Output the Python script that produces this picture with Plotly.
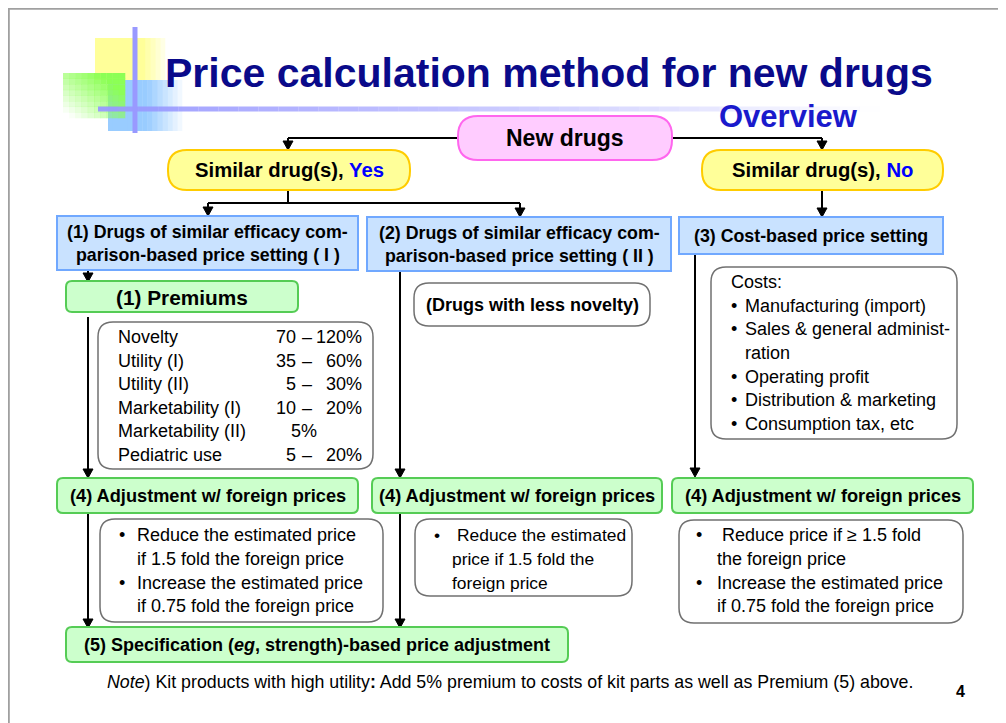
import plotly.graph_objects as go

# ---------------- content ----------------
title_text = "Price calculation method for new drugs"
subtitle_text = "Overview"
root_label = "New drugs"
branch_labels = ["Similar drug(s), ", "Similar drug(s), "]
branch_answers = ["Yes", "No"]
method_lines = [
    ["(1) Drugs of similar efficacy com-", "parison-based price setting ( I )"],
    ["(2) Drugs of similar efficacy com-", "parison-based price setting ( II )"],
    ["(3) Cost-based price setting"],
]
premium_title = "(1) Premiums"
premium_names = ["Novelty", "Utility (I)", "Utility (II)", "Marketability (I)",
                 "Marketability (II)", "Pediatric use"]
premium_low = [70, 35, 5, 10, 5, 5]
premium_high = [120, 60, 30, 20, None, 20]
less_novelty = "(Drugs with less novelty)"
cost_header = "Costs:"
cost_items = [["Manufacturing (import)"],
              ["Sales & general administ-", "ration"],
              ["Operating profit"],
              ["Distribution & marketing"],
              ["Consumption tax, etc"]]
adjust_label = "(4) Adjustment w/ foreign prices"
adjust_rules = [
    [["Reduce the estimated price", "if 1.5 fold the foreign price"],
     ["Increase the estimated price", "if 0.75 fold the foreign price"]],
    [["Reduce the estimated", "price if 1.5 fold the", "foreign price"]],
    [["Reduce price if \u2265 1.5 fold", "the foreign price"],
     ["Increase the estimated price", "if 0.75 fold the foreign price"]],
]
spec_label = "(5) Specification (<i>eg</i>, strength)-based price adjustment"
note_text = ("<i>Note</i>) Kit products with high utility<b>:</b> Add 5% premium to costs "
             "of kit parts as well as Premium (5) above.")
page_number = "4"

FONT = "Liberation Sans, Arial, Helvetica, sans-serif"
PAGE_OFFSET = 8  # browser body margin

shapes = []
annotations = []


def rect(x0, y0, x1, y1, fill, line=None, lw=0, opacity=1.0):
    shapes.append(dict(type="rect", x0=x0, y0=y0, x1=x1, y1=y1, xref="x", yref="y",
                       fillcolor=fill, opacity=opacity,
                       line=dict(color=line or fill, width=lw)))


def rrect(x0, y0, x1, y1, r, fill, line, lw=2):
    p = (f"M {x0+r},{y0} L {x1-r},{y0} Q {x1},{y0} {x1},{y0+r} L {x1},{y1-r} "
         f"Q {x1},{y1} {x1-r},{y1} L {x0+r},{y1} Q {x0},{y1} {x0},{y1-r} "
         f"L {x0},{y0+r} Q {x0},{y0} {x0+r},{y0} Z")
    shapes.append(dict(type="path", path=p, xref="x", yref="y", fillcolor=fill,
                       line=dict(color=line, width=lw)))


def line(x0, y0, x1, y1, color="black", w=2, opacity=1.0):
    shapes.append(dict(type="line", x0=x0, y0=y0, x1=x1, y1=y1, xref="x", yref="y",
                       opacity=opacity, line=dict(color=color, width=w)))


def arrow_down(x, y0, y1):
    line(x, y0, x, y1 - 7)
    p = f"M {x-5},{y1-9} L {x+5},{y1-9} L {x},{y1} Z"
    shapes.append(dict(type="path", path=p, xref="x", yref="y", fillcolor="black",
                       line=dict(color="black", width=1)))


def text(x, y, s, size=18, bold=False, color="black", anchor="left", italic=False):
    if bold:
        s = f"<b>{s}</b>"
    if italic:
        s = f"<i>{s}</i>"
    annotations.append(dict(x=x, y=y, xref="x", yref="y", text=s, showarrow=False,
                            xanchor=anchor, yanchor="middle",
                            font=dict(family=FONT, size=size, color=color)))


# ---------------- page frame ----------------
line(8, 8.8, 1006, 8.8, color="#a0a0a0", w=2)
line(8.8, 8, 8.8, 723, color="#a0a0a0", w=2)

# ---------------- decoration ----------------
# blue square (fades to right)
n = 15
for i in range(n):
    x0 = 108 + i * (74 / n)
    op = 1.0 if x0 < 145 else max(0.0, 1 - (x0 - 145) / 37)
    rect(x0, 80, x0 + 74 / n + 0.3, 131, "#99ccff", opacity=op)
# yellow square
n = 14
for i in range(n):
    x0 = 95 + i * (70 / n)
    op = 1.0 if x0 < 140 else max(0.0, 1 - (x0 - 140) / 27)
    rect(x0, 38, x0 + 70 / n + 0.3, 80, "#ffff99", opacity=op)
# green square (fades toward bottom-left)
nx, ny = 10, 8
for i in range(nx):
    for j in range(ny):
        x0 = 63 + i * (62 / nx)
        y0 = 73 + j * (45 / ny)
        fx = (i + 0.5) / nx
        fy = 1 - (j + 0.5) / ny
        op = max(0.0, min(1.0, (fx + fy) / 1.4 - 0.1))
        rect(x0, y0, x0 + 62 / nx + 0.3, y0 + 45 / ny + 0.3, "#8cff55", opacity=op)
# horizontal purple rule fading right
segs = 40
for i in range(segs):
    x0 = 98 + i * (802 / segs)
    x1 = x0 + 802 / segs
    frac = i / segs
    op = 0.95 - 0.45 * (frac / 0.5) if frac < 0.5 else max(0.0, 0.5 - (frac - 0.5) * 1.1)
    line(x0, 109, x1, 109, color="#9999ff", w=5, opacity=op)
# vertical purple rule
line(135, 27, 135, 133, color="#9999ff", w=5)

# ---------------- titles ----------------
text(549, 73, title_text, size=41, bold=True, color="#0a0a8a", anchor="center")
text(788, 116, subtitle_text, size=31, bold=True, color="#1a1acc", anchor="center")

# ---------------- connectors ----------------
line(458, 138, 288, 138)
arrow_down(288, 138, 150)
line(672, 138, 822, 138)
arrow_down(822, 138, 150)
line(288, 190, 288, 203)
line(208, 203, 520, 203)
arrow_down(208, 203, 216)
arrow_down(520, 203, 217)
arrow_down(822, 190, 217)
arrow_down(88, 270, 282)
arrow_down(88, 317, 478)
arrow_down(400, 271, 478)
arrow_down(695, 254, 477)
arrow_down(88, 513, 628)
arrow_down(400, 513, 628)

# ---------------- boxes ----------------
rrect(458, 116, 672, 160, 20, "#ffccff", "#ff66ee", 2)
text(565, 138, root_label, size=23, bold=True, anchor="center")

yes_box = (168, 150, 410, 190)
no_box = (702, 150, 943, 190)
for (x0, y0, x1, y1), lab, ans in zip([yes_box, no_box], branch_labels, branch_answers):
    rrect(x0, y0, x1, y1, 19, "#ffff99", "#ffcc00", 2)
    text((x0 + x1) / 2, (y0 + y1) / 2,
         f"<b>{lab}<span style='color:#0000ff'>{ans}</span></b>", size=20.3, anchor="center")

method_boxes = [(57, 216, 358, 270), (367, 217, 671, 271), (679, 217, 943, 254)]
for (x0, y0, x1, y1), lines in zip(method_boxes, method_lines):
    rect(x0, y0, x1, y1, "#c9e2ff", line="#70a8ff", lw=2)
    cy = (y0 + y1) / 2
    k = len(lines)
    for i, s in enumerate(lines):
        text((x0 + x1) / 2, cy + (i - (k - 1) / 2) * 23, s, size=17.8, bold=True, anchor="center")

# premiums
rrect(66, 281, 298, 312, 6, "#ccffcc", "#55cc55", 2)
text(182, 297, premium_title, size=20.8, bold=True, anchor="center")
rrect(98, 322, 373, 469, 15, "white", "#707070", 1.5)
for i, (nm, lo, hi) in enumerate(zip(premium_names, premium_low, premium_high)):
    y = 337 + i * 23.6
    text(116, y, nm)
    if hi is None:
        text(289, y, f"{lo}%")
    else:
        text(298, y, f"{lo}", anchor="right")
        text(307, y, "\u2013", anchor="center")
        text(364, y, f"{hi}%", anchor="right")

# less novelty
rrect(414, 283, 650, 326, 15, "white", "#707070", 1.5)
text(532, 304.5, less_novelty, size=18, bold=True, anchor="center")

# costs
rrect(711, 267, 957, 439, 15, "white", "#707070", 1.5)
text(729, 282, cost_header)
yy = 305.5
for item in cost_items:
    for j, s in enumerate(item):
        if j == 0:
            text(734, yy, "\u2022", anchor="center")
        text(743, yy, s)
        yy += 23.7

# adjustment boxes
adj_boxes = [(57, 478, 358, 513), (372, 478, 662, 513), (672, 478, 973, 513)]
for (x0, y0, x1, y1) in adj_boxes:
    rrect(x0, y0, x1, y1, 6, "#ccffcc", "#55cc55", 2)
    text((x0 + x1) / 2, (y0 + y1) / 2, adjust_label, size=18.2, bold=True, anchor="center")

detail_boxes = [(100, 519, 383, 622), (415, 519, 632, 596), (679, 520, 963, 623)]
bullet_x = [122, 437, 699]
first_x = [135, 455, 720]
text_x = [135, 450, 715]
detail_size = [18, 17.4, 18]
for (x0, y0, x1, y1), rules, bx, fx, tx, fs in zip(detail_boxes, adjust_rules, bullet_x,
                                                   first_x, text_x, detail_size):
    rrect(x0, y0, x1, y1, 15, "white", "#707070", 1.5)
    yy = 535
    for k, rule in enumerate(rules):
        for j, s in enumerate(rule):
            if j == 0:
                text(bx, yy, "\u2022", size=fs, anchor="center")
            xpos = fx if (k == 0 and j == 0) else tx
            text(xpos, yy, s, size=fs)
            yy += 23.8

# specification
rrect(66, 627, 568, 662, 6, "#ccffcc", "#55cc55", 2)
text(317, 645, f"<b>{spec_label}</b>", size=18, anchor="center")

# note
text(510, 682, note_text, size=17.8, anchor="center")
text(960, 691, page_number, size=16, bold=True, anchor="center")

fig = go.Figure()
fig.update_layout(
    width=1006 - PAGE_OFFSET, height=723 - PAGE_OFFSET,
    margin=dict(l=0, r=0, t=0, b=0),
    paper_bgcolor="white", plot_bgcolor="white",
    xaxis=dict(range=[PAGE_OFFSET, 1006], visible=False, fixedrange=True),
    yaxis=dict(range=[723, PAGE_OFFSET], visible=False, fixedrange=True),
    shapes=shapes, annotations=annotations, showlegend=False,
)
fig.write_html("out.html")
